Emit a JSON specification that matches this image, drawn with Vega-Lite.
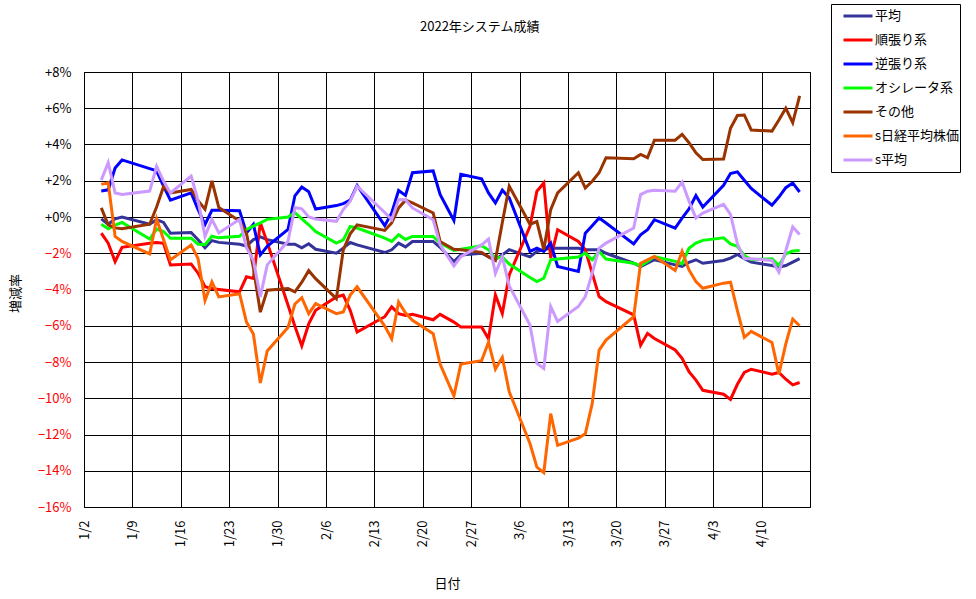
{
  "$schema": "https://vega.github.io/schema/vega-lite/v6.json",
  "width": 726,
  "height": 435,
  "autosize": {"type": "none"},
  "padding": {"left": 84, "top": 72, "right": 166, "bottom": 92},
  "background": "white",
  "title": {"text": "2022年システム成績", "anchor": "start", "frame": "group", "dx": 336, "offset": -36, "baseline": "middle", "fontSize": 13, "fontWeight": "normal", "color": "black"},
  "data": {"values": [
    {"date":"2022-01-04T12:00","series":"平均","value":-0.1},{"date":"2022-01-05T12:00","series":"平均","value":-0.4},{"date":"2022-01-06T12:00","series":"平均","value":-0.1},{"date":"2022-01-07T12:00","series":"平均","value":0.0},{"date":"2022-01-11T12:00","series":"平均","value":-0.4},{"date":"2022-01-12T12:00","series":"平均","value":-0.15},{"date":"2022-01-13T12:00","series":"平均","value":-0.3},{"date":"2022-01-14T12:00","series":"平均","value":-0.9},{"date":"2022-01-17T12:00","series":"平均","value":-0.85},{"date":"2022-01-18T12:00","series":"平均","value":-1.25},{"date":"2022-01-19T12:00","series":"平均","value":-1.7},{"date":"2022-01-20T12:00","series":"平均","value":-1.3},{"date":"2022-01-21T12:00","series":"平均","value":-1.4},{"date":"2022-01-24T12:00","series":"平均","value":-1.5},{"date":"2022-01-25T12:00","series":"平均","value":-1.6},{"date":"2022-01-26T12:00","series":"平均","value":-1.25},{"date":"2022-01-27T12:00","series":"平均","value":-1.1},{"date":"2022-01-28T12:00","series":"平均","value":-1.25},{"date":"2022-01-31T12:00","series":"平均","value":-1.5},
    {"date":"2022-02-01T12:00","series":"平均","value":-1.5},{"date":"2022-02-02T12:00","series":"平均","value":-1.7},{"date":"2022-02-03T12:00","series":"平均","value":-1.48},{"date":"2022-02-04T12:00","series":"平均","value":-1.78},{"date":"2022-02-07T12:00","series":"平均","value":-2.0},{"date":"2022-02-08T12:00","series":"平均","value":-1.72},{"date":"2022-02-09T12:00","series":"平均","value":-1.41},{"date":"2022-02-10T12:00","series":"平均","value":-1.54},{"date":"2022-02-14T12:00","series":"平均","value":-1.96},{"date":"2022-02-15T12:00","series":"平均","value":-1.81},{"date":"2022-02-16T12:00","series":"平均","value":-1.44},{"date":"2022-02-17T12:00","series":"平均","value":-1.65},{"date":"2022-02-18T12:00","series":"平均","value":-1.35},{"date":"2022-02-21T12:00","series":"平均","value":-1.35},{"date":"2022-02-22T12:00","series":"平均","value":-1.67},{"date":"2022-02-24T12:00","series":"平均","value":-2.46},{"date":"2022-02-25T12:00","series":"平均","value":-2.09},{"date":"2022-02-28T12:00","series":"平均","value":-2.0},
    {"date":"2022-03-01T12:00","series":"平均","value":-2.19},{"date":"2022-03-02T12:00","series":"平均","value":-2.33},{"date":"2022-03-03T12:00","series":"平均","value":-2.09},{"date":"2022-03-04T12:00","series":"平均","value":-1.8},{"date":"2022-03-07T12:00","series":"平均","value":-2.2},{"date":"2022-03-08T12:00","series":"平均","value":-1.9},{"date":"2022-03-09T12:00","series":"平均","value":-1.8},{"date":"2022-03-10T12:00","series":"平均","value":-1.72},{"date":"2022-03-11T12:00","series":"平均","value":-1.72},{"date":"2022-03-14T12:00","series":"平均","value":-1.72},{"date":"2022-03-15T12:00","series":"平均","value":-1.8},{"date":"2022-03-16T12:00","series":"平均","value":-1.8},{"date":"2022-03-17T12:00","series":"平均","value":-1.8},{"date":"2022-03-18T12:00","series":"平均","value":-2.0},{"date":"2022-03-22T12:00","series":"平均","value":-2.55},{"date":"2022-03-23T12:00","series":"平均","value":-2.73},{"date":"2022-03-24T12:00","series":"平均","value":-2.55},{"date":"2022-03-25T12:00","series":"平均","value":-2.36},{"date":"2022-03-28T12:00","series":"平均","value":-2.64},{"date":"2022-03-29T12:00","series":"平均","value":-2.73},{"date":"2022-03-30T12:00","series":"平均","value":-2.5},{"date":"2022-03-31T12:00","series":"平均","value":-2.36},
    {"date":"2022-04-01T12:00","series":"平均","value":-2.55},{"date":"2022-04-04T12:00","series":"平均","value":-2.4},{"date":"2022-04-05T12:00","series":"平均","value":-2.27},{"date":"2022-04-06T12:00","series":"平均","value":-2.07},{"date":"2022-04-07T12:00","series":"平均","value":-2.3},{"date":"2022-04-08T12:00","series":"平均","value":-2.49},{"date":"2022-04-11T12:00","series":"平均","value":-2.68},{"date":"2022-04-12T12:00","series":"平均","value":-2.77},{"date":"2022-04-13T12:00","series":"平均","value":-2.68},{"date":"2022-04-14T12:00","series":"平均","value":-2.49},{"date":"2022-04-15T12:00","series":"平均","value":-2.3},

    {"date":"2022-01-04T12:00","series":"順張り系","value":-0.89},{"date":"2022-01-05T12:00","series":"順張り系","value":-1.44},{"date":"2022-01-06T12:00","series":"順張り系","value":-2.46},{"date":"2022-01-07T12:00","series":"順張り系","value":-1.67},{"date":"2022-01-11T12:00","series":"順張り系","value":-1.45},{"date":"2022-01-12T12:00","series":"順張り系","value":-1.41},{"date":"2022-01-13T12:00","series":"順張り系","value":-1.45},{"date":"2022-01-14T12:00","series":"順張り系","value":-2.65},{"date":"2022-01-17T12:00","series":"順張り系","value":-2.6},{"date":"2022-01-18T12:00","series":"順張り系","value":-3.1},{"date":"2022-01-19T12:00","series":"順張り系","value":-3.85},{"date":"2022-01-20T12:00","series":"順張り系","value":-3.95},{"date":"2022-01-21T12:00","series":"順張り系","value":-4.0},{"date":"2022-01-24T12:00","series":"順張り系","value":-4.13},{"date":"2022-01-25T12:00","series":"順張り系","value":-3.3},{"date":"2022-01-26T12:00","series":"順張り系","value":-3.39},{"date":"2022-01-27T12:00","series":"順張り系","value":-0.32},{"date":"2022-01-28T12:00","series":"順張り系","value":-1.4},{"date":"2022-01-31T12:00","series":"順張り系","value":-4.86},
    {"date":"2022-02-01T12:00","series":"順張り系","value":-6.03},{"date":"2022-02-02T12:00","series":"順張り系","value":-7.1},{"date":"2022-02-03T12:00","series":"順張り系","value":-5.9},{"date":"2022-02-04T12:00","series":"順張り系","value":-5.15},{"date":"2022-02-07T12:00","series":"順張り系","value":-4.41},{"date":"2022-02-08T12:00","series":"順張り系","value":-4.31},{"date":"2022-02-09T12:00","series":"順張り系","value":-5.15},{"date":"2022-02-10T12:00","series":"順張り系","value":-6.35},{"date":"2022-02-14T12:00","series":"順張り系","value":-5.5},{"date":"2022-02-15T12:00","series":"順張り系","value":-4.96},{"date":"2022-02-16T12:00","series":"順張り系","value":-5.33},{"date":"2022-02-17T12:00","series":"順張り系","value":-5.43},{"date":"2022-02-18T12:00","series":"順張り系","value":-5.37},{"date":"2022-02-21T12:00","series":"順張り系","value":-5.67},{"date":"2022-02-22T12:00","series":"順張り系","value":-5.37},{"date":"2022-02-24T12:00","series":"順張り系","value":-5.8},{"date":"2022-02-25T12:00","series":"順張り系","value":-6.07},{"date":"2022-02-28T12:00","series":"順張り系","value":-6.07},
    {"date":"2022-03-01T12:00","series":"順張り系","value":-6.72},{"date":"2022-03-02T12:00","series":"順張り系","value":-4.3},{"date":"2022-03-03T12:00","series":"順張り系","value":-5.33},{"date":"2022-03-04T12:00","series":"順張り系","value":-3.2},{"date":"2022-03-07T12:00","series":"順張り系","value":-0.52},{"date":"2022-03-08T12:00","series":"順張り系","value":1.42},{"date":"2022-03-09T12:00","series":"順張り系","value":1.88},{"date":"2022-03-10T12:00","series":"順張り系","value":-2.27},{"date":"2022-03-11T12:00","series":"順張り系","value":-0.7},{"date":"2022-03-14T12:00","series":"順張り系","value":-1.35},{"date":"2022-03-15T12:00","series":"順張り系","value":-1.81},{"date":"2022-03-16T12:00","series":"順張り系","value":-3.1},{"date":"2022-03-17T12:00","series":"順張り系","value":-4.39},{"date":"2022-03-18T12:00","series":"順張り系","value":-4.67},{"date":"2022-03-22T12:00","series":"順張り系","value":-5.4},{"date":"2022-03-23T12:00","series":"順張り系","value":-7.07},{"date":"2022-03-24T12:00","series":"順張り系","value":-6.42},{"date":"2022-03-25T12:00","series":"順張り系","value":-6.7},{"date":"2022-03-28T12:00","series":"順張り系","value":-7.34},{"date":"2022-03-29T12:00","series":"順張り系","value":-7.8},{"date":"2022-03-30T12:00","series":"順張り系","value":-8.54},{"date":"2022-03-31T12:00","series":"順張り系","value":-9.0},
    {"date":"2022-04-01T12:00","series":"順張り系","value":-9.56},{"date":"2022-04-04T12:00","series":"順張り系","value":-9.78},{"date":"2022-04-05T12:00","series":"順張り系","value":-10.06},{"date":"2022-04-06T12:00","series":"順張り系","value":-9.23},{"date":"2022-04-07T12:00","series":"順張り系","value":-8.58},{"date":"2022-04-08T12:00","series":"順張り系","value":-8.4},{"date":"2022-04-11T12:00","series":"順張り系","value":-8.67},{"date":"2022-04-12T12:00","series":"順張り系","value":-8.58},{"date":"2022-04-13T12:00","series":"順張り系","value":-8.95},{"date":"2022-04-14T12:00","series":"順張り系","value":-9.26},{"date":"2022-04-15T12:00","series":"順張り系","value":-9.13},

    {"date":"2022-01-04T12:00","series":"逆張り系","value":1.44},{"date":"2022-01-05T12:00","series":"逆張り系","value":1.5},{"date":"2022-01-06T12:00","series":"逆張り系","value":2.7},{"date":"2022-01-07T12:00","series":"逆張り系","value":3.15},{"date":"2022-01-11T12:00","series":"逆張り系","value":2.67},{"date":"2022-01-12T12:00","series":"逆張り系","value":2.55},{"date":"2022-01-13T12:00","series":"逆張り系","value":1.7},{"date":"2022-01-14T12:00","series":"逆張り系","value":0.93},{"date":"2022-01-17T12:00","series":"逆張り系","value":1.33},{"date":"2022-01-18T12:00","series":"逆張り系","value":0.4},{"date":"2022-01-19T12:00","series":"逆張り系","value":-0.41},{"date":"2022-01-20T12:00","series":"逆張り系","value":0.37},{"date":"2022-01-21T12:00","series":"逆張り系","value":0.37},{"date":"2022-01-24T12:00","series":"逆張り系","value":0.34},{"date":"2022-01-25T12:00","series":"逆張り系","value":-0.88},{"date":"2022-01-26T12:00","series":"逆張り系","value":-0.41},{"date":"2022-01-27T12:00","series":"逆張り系","value":-2.09},{"date":"2022-01-28T12:00","series":"逆張り系","value":-1.62},{"date":"2022-01-31T12:00","series":"逆張り系","value":-0.69},
    {"date":"2022-02-01T12:00","series":"逆張り系","value":1.17},{"date":"2022-02-02T12:00","series":"逆張り系","value":1.65},{"date":"2022-02-03T12:00","series":"逆張り系","value":1.39},{"date":"2022-02-04T12:00","series":"逆張り系","value":0.44},{"date":"2022-02-07T12:00","series":"逆張り系","value":0.63},{"date":"2022-02-08T12:00","series":"逆張り系","value":0.74},{"date":"2022-02-09T12:00","series":"逆張り系","value":0.93},{"date":"2022-02-10T12:00","series":"逆張り系","value":1.74},{"date":"2022-02-14T12:00","series":"逆張り系","value":-0.48},{"date":"2022-02-15T12:00","series":"逆張り系","value":0.22},{"date":"2022-02-16T12:00","series":"逆張り系","value":1.46},{"date":"2022-02-17T12:00","series":"逆張り系","value":1.19},{"date":"2022-02-18T12:00","series":"逆張り系","value":2.44},{"date":"2022-02-21T12:00","series":"逆張り系","value":2.54},{"date":"2022-02-22T12:00","series":"逆張り系","value":1.24},{"date":"2022-02-24T12:00","series":"逆張り系","value":-0.19},{"date":"2022-02-25T12:00","series":"逆張り系","value":2.35},{"date":"2022-02-28T12:00","series":"逆張り系","value":2.11},
    {"date":"2022-03-01T12:00","series":"逆張り系","value":1.33},{"date":"2022-03-02T12:00","series":"逆張り系","value":0.78},{"date":"2022-03-03T12:00","series":"逆張り系","value":1.48},{"date":"2022-03-04T12:00","series":"逆張り系","value":1.06},{"date":"2022-03-07T12:00","series":"逆張り系","value":-1.9},{"date":"2022-03-08T12:00","series":"逆張り系","value":-1.72},{"date":"2022-03-09T12:00","series":"逆張り系","value":-1.9},{"date":"2022-03-10T12:00","series":"逆張り系","value":-1.44},{"date":"2022-03-11T12:00","series":"逆張り系","value":-2.73},{"date":"2022-03-14T12:00","series":"逆張り系","value":-3.0},{"date":"2022-03-15T12:00","series":"逆張り系","value":-0.89},{"date":"2022-03-16T12:00","series":"逆張り系","value":-0.48},{"date":"2022-03-17T12:00","series":"逆張り系","value":-0.06},{"date":"2022-03-18T12:00","series":"逆張り系","value":-0.33},{"date":"2022-03-22T12:00","series":"逆張り系","value":-1.48},{"date":"2022-03-23T12:00","series":"逆張り系","value":-0.98},{"date":"2022-03-24T12:00","series":"逆張り系","value":-0.7},{"date":"2022-03-25T12:00","series":"逆張り系","value":-0.15},{"date":"2022-03-28T12:00","series":"逆張り系","value":-0.61},{"date":"2022-03-29T12:00","series":"逆張り系","value":-0.06},{"date":"2022-03-30T12:00","series":"逆張り系","value":0.44},{"date":"2022-03-31T12:00","series":"逆張り系","value":1.18},
    {"date":"2022-04-01T12:00","series":"逆張り系","value":0.55},{"date":"2022-04-04T12:00","series":"逆張り系","value":1.75},{"date":"2022-04-05T12:00","series":"逆張り系","value":2.4},{"date":"2022-04-06T12:00","series":"逆張り系","value":2.49},{"date":"2022-04-07T12:00","series":"逆張り系","value":2.03},{"date":"2022-04-08T12:00","series":"逆張り系","value":1.57},{"date":"2022-04-11T12:00","series":"逆張り系","value":0.65},{"date":"2022-04-12T12:00","series":"逆張り系","value":1.1},{"date":"2022-04-13T12:00","series":"逆張り系","value":1.62},{"date":"2022-04-14T12:00","series":"逆張り系","value":1.88},{"date":"2022-04-15T12:00","series":"逆張り系","value":1.38},

    {"date":"2022-01-04T12:00","series":"オシレータ系","value":-0.4},{"date":"2022-01-05T12:00","series":"オシレータ系","value":-0.65},{"date":"2022-01-06T12:00","series":"オシレータ系","value":-0.45},{"date":"2022-01-07T12:00","series":"オシレータ系","value":-0.3},{"date":"2022-01-11T12:00","series":"オシレータ系","value":-1.22},{"date":"2022-01-12T12:00","series":"オシレータ系","value":-0.67},{"date":"2022-01-13T12:00","series":"オシレータ系","value":-0.8},{"date":"2022-01-14T12:00","series":"オシレータ系","value":-1.17},{"date":"2022-01-17T12:00","series":"オシレータ系","value":-1.17},{"date":"2022-01-18T12:00","series":"オシレータ系","value":-1.5},{"date":"2022-01-19T12:00","series":"オシレータ系","value":-1.53},{"date":"2022-01-20T12:00","series":"オシレータ系","value":-1.06},{"date":"2022-01-21T12:00","series":"オシレータ系","value":-1.15},{"date":"2022-01-24T12:00","series":"オシレータ系","value":-1.06},{"date":"2022-01-25T12:00","series":"オシレータ系","value":-0.69},{"date":"2022-01-26T12:00","series":"オシレータ系","value":-0.5},{"date":"2022-01-27T12:00","series":"オシレータ系","value":-0.32},{"date":"2022-01-28T12:00","series":"オシレータ系","value":-0.13},{"date":"2022-01-31T12:00","series":"オシレータ系","value":0.0},
    {"date":"2022-02-01T12:00","series":"オシレータ系","value":0.24},{"date":"2022-02-02T12:00","series":"オシレータ系","value":-0.1},{"date":"2022-02-03T12:00","series":"オシレータ系","value":-0.43},{"date":"2022-02-04T12:00","series":"オシレータ系","value":-0.8},{"date":"2022-02-07T12:00","series":"オシレータ系","value":-1.44},{"date":"2022-02-08T12:00","series":"オシレータ系","value":-1.26},{"date":"2022-02-09T12:00","series":"オシレータ系","value":-0.52},{"date":"2022-02-10T12:00","series":"オシレータ系","value":-0.61},{"date":"2022-02-14T12:00","series":"オシレータ系","value":-1.17},{"date":"2022-02-15T12:00","series":"オシレータ系","value":-1.35},{"date":"2022-02-16T12:00","series":"オシレータ系","value":-0.98},{"date":"2022-02-17T12:00","series":"オシレータ系","value":-1.24},{"date":"2022-02-18T12:00","series":"オシレータ系","value":-1.07},{"date":"2022-02-21T12:00","series":"オシレータ系","value":-1.07},{"date":"2022-02-22T12:00","series":"オシレータ系","value":-1.44},{"date":"2022-02-24T12:00","series":"オシレータ系","value":-1.85},{"date":"2022-02-25T12:00","series":"オシレータ系","value":-1.78},{"date":"2022-02-28T12:00","series":"オシレータ系","value":-1.59},
    {"date":"2022-03-01T12:00","series":"オシレータ系","value":-1.81},{"date":"2022-03-02T12:00","series":"オシレータ系","value":-2.28},{"date":"2022-03-03T12:00","series":"オシレータ系","value":-2.2},{"date":"2022-03-04T12:00","series":"オシレータ系","value":-2.6},{"date":"2022-03-07T12:00","series":"オシレータ系","value":-3.34},{"date":"2022-03-08T12:00","series":"オシレータ系","value":-3.56},{"date":"2022-03-09T12:00","series":"オシレータ系","value":-3.38},{"date":"2022-03-10T12:00","series":"オシレータ系","value":-2.36},{"date":"2022-03-11T12:00","series":"オシレータ系","value":-2.32},{"date":"2022-03-14T12:00","series":"オシレータ系","value":-2.21},{"date":"2022-03-15T12:00","series":"オシレータ系","value":-1.99},{"date":"2022-03-16T12:00","series":"オシレータ系","value":-2.36},{"date":"2022-03-17T12:00","series":"オシレータ系","value":-1.9},{"date":"2022-03-18T12:00","series":"オシレータ系","value":-2.32},{"date":"2022-03-22T12:00","series":"オシレータ系","value":-2.55},{"date":"2022-03-23T12:00","series":"オシレータ系","value":-2.69},{"date":"2022-03-24T12:00","series":"オシレータ系","value":-2.45},{"date":"2022-03-25T12:00","series":"オシレータ系","value":-2.18},{"date":"2022-03-28T12:00","series":"オシレータ系","value":-2.45},{"date":"2022-03-29T12:00","series":"オシレータ系","value":-2.58},{"date":"2022-03-30T12:00","series":"オシレータ系","value":-1.72},{"date":"2022-03-31T12:00","series":"オシレータ系","value":-1.44},
    {"date":"2022-04-01T12:00","series":"オシレータ系","value":-1.29},{"date":"2022-04-04T12:00","series":"オシレータ系","value":-1.15},{"date":"2022-04-05T12:00","series":"オシレータ系","value":-1.48},{"date":"2022-04-06T12:00","series":"オシレータ系","value":-1.62},{"date":"2022-04-07T12:00","series":"オシレータ系","value":-2.12},{"date":"2022-04-08T12:00","series":"オシレータ系","value":-2.36},{"date":"2022-04-11T12:00","series":"オシレータ系","value":-2.3},{"date":"2022-04-12T12:00","series":"オシレータ系","value":-2.68},{"date":"2022-04-13T12:00","series":"オシレータ系","value":-2.03},{"date":"2022-04-14T12:00","series":"オシレータ系","value":-1.88},{"date":"2022-04-15T12:00","series":"オシレータ系","value":-1.85},

    {"date":"2022-01-04T12:00","series":"その他","value":0.5},{"date":"2022-01-05T12:00","series":"その他","value":-0.43},{"date":"2022-01-06T12:00","series":"その他","value":-0.6},{"date":"2022-01-07T12:00","series":"その他","value":-0.65},{"date":"2022-01-11T12:00","series":"その他","value":-0.4},{"date":"2022-01-12T12:00","series":"その他","value":0.55},{"date":"2022-01-13T12:00","series":"その他","value":1.67},{"date":"2022-01-14T12:00","series":"その他","value":1.33},{"date":"2022-01-17T12:00","series":"その他","value":1.52},{"date":"2022-01-18T12:00","series":"その他","value":0.9},{"date":"2022-01-19T12:00","series":"その他","value":0.43},{"date":"2022-01-20T12:00","series":"その他","value":2.0},{"date":"2022-01-21T12:00","series":"その他","value":0.52},{"date":"2022-01-24T12:00","series":"その他","value":-0.22},{"date":"2022-01-25T12:00","series":"その他","value":-0.9},{"date":"2022-01-26T12:00","series":"その他","value":-2.8},{"date":"2022-01-27T12:00","series":"その他","value":-5.25},{"date":"2022-01-28T12:00","series":"その他","value":-4.04},{"date":"2022-01-31T12:00","series":"その他","value":-3.95},
    {"date":"2022-02-01T12:00","series":"その他","value":-4.13},{"date":"2022-02-02T12:00","series":"その他","value":-3.6},{"date":"2022-02-03T12:00","series":"その他","value":-2.96},{"date":"2022-02-04T12:00","series":"その他","value":-3.4},{"date":"2022-02-07T12:00","series":"その他","value":-4.5},{"date":"2022-02-08T12:00","series":"その他","value":-1.81},{"date":"2022-02-09T12:00","series":"その他","value":-0.93},{"date":"2022-02-10T12:00","series":"その他","value":-0.43},{"date":"2022-02-14T12:00","series":"その他","value":-0.74},{"date":"2022-02-15T12:00","series":"その他","value":-0.33},{"date":"2022-02-16T12:00","series":"その他","value":0.5},{"date":"2022-02-17T12:00","series":"その他","value":0.93},{"date":"2022-02-18T12:00","series":"その他","value":0.78},{"date":"2022-02-21T12:00","series":"その他","value":0.22},{"date":"2022-02-22T12:00","series":"その他","value":-1.35},{"date":"2022-02-24T12:00","series":"その他","value":-1.78},{"date":"2022-02-25T12:00","series":"その他","value":-1.81},{"date":"2022-02-28T12:00","series":"その他","value":-1.95},
    {"date":"2022-03-01T12:00","series":"その他","value":-2.2},{"date":"2022-03-02T12:00","series":"その他","value":-2.4},{"date":"2022-03-03T12:00","series":"その他","value":-0.3},{"date":"2022-03-04T12:00","series":"その他","value":1.7},{"date":"2022-03-07T12:00","series":"その他","value":-0.4},{"date":"2022-03-08T12:00","series":"その他","value":-0.25},{"date":"2022-03-09T12:00","series":"その他","value":-1.8},{"date":"2022-03-10T12:00","series":"その他","value":0.41},{"date":"2022-03-11T12:00","series":"その他","value":1.33},{"date":"2022-03-14T12:00","series":"その他","value":2.44},{"date":"2022-03-15T12:00","series":"その他","value":1.6},{"date":"2022-03-16T12:00","series":"その他","value":1.97},{"date":"2022-03-17T12:00","series":"その他","value":2.44},{"date":"2022-03-18T12:00","series":"その他","value":3.27},{"date":"2022-03-22T12:00","series":"その他","value":3.21},{"date":"2022-03-23T12:00","series":"その他","value":3.45},{"date":"2022-03-24T12:00","series":"その他","value":3.27},{"date":"2022-03-25T12:00","series":"その他","value":4.24},{"date":"2022-03-28T12:00","series":"その他","value":4.24},{"date":"2022-03-29T12:00","series":"その他","value":4.56},{"date":"2022-03-30T12:00","series":"その他","value":4.1},{"date":"2022-03-31T12:00","series":"その他","value":3.54},
    {"date":"2022-04-01T12:00","series":"その他","value":3.17},{"date":"2022-04-04T12:00","series":"その他","value":3.2},{"date":"2022-04-05T12:00","series":"その他","value":4.9},{"date":"2022-04-06T12:00","series":"その他","value":5.6},{"date":"2022-04-07T12:00","series":"その他","value":5.63},{"date":"2022-04-08T12:00","series":"その他","value":4.8},{"date":"2022-04-11T12:00","series":"その他","value":4.74},{"date":"2022-04-12T12:00","series":"その他","value":5.35},{"date":"2022-04-13T12:00","series":"その他","value":6.0},{"date":"2022-04-14T12:00","series":"その他","value":5.2},{"date":"2022-04-15T12:00","series":"その他","value":6.68},

    {"date":"2022-01-04T12:00","series":"s日経平均株価","value":1.8},{"date":"2022-01-05T12:00","series":"s日経平均株価","value":1.89},{"date":"2022-01-06T12:00","series":"s日経平均株価","value":-1.07},{"date":"2022-01-07T12:00","series":"s日経平均株価","value":-1.35},{"date":"2022-01-11T12:00","series":"s日経平均株価","value":-2.04},{"date":"2022-01-12T12:00","series":"s日経平均株価","value":-0.11},{"date":"2022-01-13T12:00","series":"s日経平均株価","value":-1.24},{"date":"2022-01-14T12:00","series":"s日経平均株価","value":-2.37},{"date":"2022-01-17T12:00","series":"s日経平均株価","value":-1.54},{"date":"2022-01-18T12:00","series":"s日経平均株価","value":-2.3},{"date":"2022-01-19T12:00","series":"s日経平均株価","value":-4.6},{"date":"2022-01-20T12:00","series":"s日経平均株価","value":-3.58},{"date":"2022-01-21T12:00","series":"s日経平均株価","value":-4.41},{"date":"2022-01-24T12:00","series":"s日経平均株価","value":-4.23},{"date":"2022-01-25T12:00","series":"s日経平均株価","value":-5.8},{"date":"2022-01-26T12:00","series":"s日経平均株価","value":-6.46},{"date":"2022-01-27T12:00","series":"s日経平均株価","value":-9.16},{"date":"2022-01-28T12:00","series":"s日経平均株価","value":-7.39},{"date":"2022-01-31T12:00","series":"s日経平均株価","value":-6.1},
    {"date":"2022-02-01T12:00","series":"s日経平均株価","value":-4.8},{"date":"2022-02-02T12:00","series":"s日経平均株価","value":-4.45},{"date":"2022-02-03T12:00","series":"s日経平均株価","value":-5.33},{"date":"2022-02-04T12:00","series":"s日経平均株価","value":-4.78},{"date":"2022-02-07T12:00","series":"s日経平均株価","value":-5.33},{"date":"2022-02-08T12:00","series":"s日経平均株価","value":-5.24},{"date":"2022-02-09T12:00","series":"s日経平均株価","value":-4.31},{"date":"2022-02-10T12:00","series":"s日経平均株価","value":-3.85},{"date":"2022-02-14T12:00","series":"s日経平均株価","value":-6.02},{"date":"2022-02-15T12:00","series":"s日経平均株価","value":-6.72},{"date":"2022-02-16T12:00","series":"s日経平均株価","value":-4.69},{"date":"2022-02-17T12:00","series":"s日経平均株価","value":-5.3},{"date":"2022-02-18T12:00","series":"s日経平均株価","value":-5.7},{"date":"2022-02-21T12:00","series":"s日経平均株価","value":-6.44},{"date":"2022-02-22T12:00","series":"s日経平均株価","value":-8.11},{"date":"2022-02-24T12:00","series":"s日経平均株価","value":-9.87},{"date":"2022-02-25T12:00","series":"s日経平均株価","value":-8.11},{"date":"2022-02-28T12:00","series":"s日経平均株価","value":-7.93},
    {"date":"2022-03-01T12:00","series":"s日経平均株価","value":-6.91},{"date":"2022-03-02T12:00","series":"s日経平均株価","value":-8.39},{"date":"2022-03-03T12:00","series":"s日経平均株価","value":-7.74},{"date":"2022-03-04T12:00","series":"s日経平均株価","value":-9.65},{"date":"2022-03-07T12:00","series":"s日経平均株価","value":-12.5},{"date":"2022-03-08T12:00","series":"s日経平均株価","value":-13.8},{"date":"2022-03-09T12:00","series":"s日経平均株価","value":-14.1},{"date":"2022-03-10T12:00","series":"s日経平均株価","value":-10.85},{"date":"2022-03-11T12:00","series":"s日経平均株価","value":-12.6},{"date":"2022-03-14T12:00","series":"s日経平均株価","value":-12.2},{"date":"2022-03-15T12:00","series":"s日経平均株価","value":-11.96},{"date":"2022-03-16T12:00","series":"s日経平均株価","value":-10.3},{"date":"2022-03-17T12:00","series":"s日経平均株価","value":-7.34},{"date":"2022-03-18T12:00","series":"s日経平均株価","value":-6.79},{"date":"2022-03-22T12:00","series":"s日経平均株価","value":-5.5},{"date":"2022-03-23T12:00","series":"s日経平均株価","value":-2.55},{"date":"2022-03-24T12:00","series":"s日経平均株価","value":-2.36},{"date":"2022-03-25T12:00","series":"s日経平均株価","value":-2.18},{"date":"2022-03-28T12:00","series":"s日経平均株価","value":-2.95},{"date":"2022-03-29T12:00","series":"s日経平均株価","value":-1.9},{"date":"2022-03-30T12:00","series":"s日経平均株価","value":-2.92},{"date":"2022-03-31T12:00","series":"s日経平均株価","value":-3.56},
    {"date":"2022-04-01T12:00","series":"s日経平均株価","value":-3.93},{"date":"2022-04-04T12:00","series":"s日経平均株価","value":-3.65},{"date":"2022-04-05T12:00","series":"s日経平均株価","value":-3.6},{"date":"2022-04-06T12:00","series":"s日経平均株価","value":-5.17},{"date":"2022-04-07T12:00","series":"s日経平均株価","value":-6.64},{"date":"2022-04-08T12:00","series":"s日経平均株価","value":-6.31},{"date":"2022-04-11T12:00","series":"s日経平均株価","value":-6.92},{"date":"2022-04-12T12:00","series":"s日経平均株価","value":-8.67},{"date":"2022-04-13T12:00","series":"s日経平均株価","value":-7.0},{"date":"2022-04-14T12:00","series":"s日経平均株価","value":-5.63},{"date":"2022-04-15T12:00","series":"s日経平均株価","value":-6.0},

    {"date":"2022-01-04T12:00","series":"s平均","value":2.04},{"date":"2022-01-05T12:00","series":"s平均","value":3.0},{"date":"2022-01-06T12:00","series":"s平均","value":1.33},{"date":"2022-01-07T12:00","series":"s平均","value":1.24},{"date":"2022-01-11T12:00","series":"s平均","value":1.43},{"date":"2022-01-12T12:00","series":"s平均","value":2.8},{"date":"2022-01-13T12:00","series":"s平均","value":1.98},{"date":"2022-01-14T12:00","series":"s平均","value":1.33},{"date":"2022-01-17T12:00","series":"s平均","value":2.26},{"date":"2022-01-18T12:00","series":"s平均","value":0.9},{"date":"2022-01-19T12:00","series":"s平均","value":-1.06},{"date":"2022-01-20T12:00","series":"s平均","value":-0.13},{"date":"2022-01-21T12:00","series":"s平均","value":-0.88},{"date":"2022-01-24T12:00","series":"s平均","value":-0.13},{"date":"2022-01-25T12:00","series":"s平均","value":-1.7},{"date":"2022-01-26T12:00","series":"s平均","value":-2.4},{"date":"2022-01-27T12:00","series":"s平均","value":-4.41},{"date":"2022-01-28T12:00","series":"s平均","value":-2.64},{"date":"2022-01-31T12:00","series":"s平均","value":-1.34},
    {"date":"2022-02-01T12:00","series":"s平均","value":0.52},{"date":"2022-02-02T12:00","series":"s平均","value":0.45},{"date":"2022-02-03T12:00","series":"s平均","value":0.0},{"date":"2022-02-04T12:00","series":"s平均","value":-0.11},{"date":"2022-02-07T12:00","series":"s平均","value":-0.24},{"date":"2022-02-08T12:00","series":"s平均","value":0.41},{"date":"2022-02-09T12:00","series":"s平均","value":0.87},{"date":"2022-02-10T12:00","series":"s平均","value":1.7},{"date":"2022-02-14T12:00","series":"s平均","value":0.25},{"date":"2022-02-15T12:00","series":"s平均","value":-0.15},{"date":"2022-02-16T12:00","series":"s平均","value":0.96},{"date":"2022-02-17T12:00","series":"s平均","value":0.95},{"date":"2022-02-18T12:00","series":"s平均","value":0.5},{"date":"2022-02-21T12:00","series":"s平均","value":-0.15},{"date":"2022-02-22T12:00","series":"s平均","value":-1.54},{"date":"2022-02-24T12:00","series":"s平均","value":-2.7},{"date":"2022-02-25T12:00","series":"s平均","value":-2.19},{"date":"2022-02-28T12:00","series":"s平均","value":-1.54},
    {"date":"2022-03-01T12:00","series":"s平均","value":-1.22},{"date":"2022-03-02T12:00","series":"s平均","value":-3.11},{"date":"2022-03-03T12:00","series":"s平均","value":-2.19},{"date":"2022-03-04T12:00","series":"s平均","value":-3.8},{"date":"2022-03-07T12:00","series":"s平均","value":-5.96},{"date":"2022-03-08T12:00","series":"s平均","value":-8.08},{"date":"2022-03-09T12:00","series":"s平均","value":-8.36},{"date":"2022-03-10T12:00","series":"s平均","value":-4.94},{"date":"2022-03-11T12:00","series":"s平均","value":-5.77},{"date":"2022-03-14T12:00","series":"s平均","value":-4.94},{"date":"2022-03-15T12:00","series":"s平均","value":-4.39},{"date":"2022-03-16T12:00","series":"s平均","value":-3.1},{"date":"2022-03-17T12:00","series":"s平均","value":-1.72},{"date":"2022-03-18T12:00","series":"s平均","value":-1.44},{"date":"2022-03-22T12:00","series":"s平均","value":-0.61},{"date":"2022-03-23T12:00","series":"s平均","value":1.24},{"date":"2022-03-24T12:00","series":"s平均","value":1.42},{"date":"2022-03-25T12:00","series":"s平均","value":1.48},{"date":"2022-03-28T12:00","series":"s平均","value":1.42},{"date":"2022-03-29T12:00","series":"s平均","value":1.92},{"date":"2022-03-30T12:00","series":"s平均","value":0.87},{"date":"2022-03-31T12:00","series":"s平均","value":-0.06},
    {"date":"2022-04-01T12:00","series":"s平均","value":0.22},{"date":"2022-04-04T12:00","series":"s平均","value":0.7},{"date":"2022-04-05T12:00","series":"s平均","value":0.15},{"date":"2022-04-06T12:00","series":"s平均","value":-1.48},{"date":"2022-04-07T12:00","series":"s平均","value":-2.3},{"date":"2022-04-08T12:00","series":"s平均","value":-2.3},{"date":"2022-04-11T12:00","series":"s平均","value":-2.4},{"date":"2022-04-12T12:00","series":"s平均","value":-3.04},{"date":"2022-04-13T12:00","series":"s平均","value":-1.85},{"date":"2022-04-14T12:00","series":"s平均","value":-0.55},{"date":"2022-04-15T12:00","series":"s平均","value":-0.96}
  ]},
  "mark": {"type": "line", "strokeWidth": 3, "clip": true},
  "encoding": {
    "x": {
      "field": "date",
      "type": "temporal",
      "scale": {"domain": [{"year": 2022, "month": 1, "date": 2}, {"year": 2022, "month": 4, "date": 17}]},
      "axis": {
        "values": [
          {"year": 2022, "month": 1, "date": 2}, {"year": 2022, "month": 1, "date": 9}, {"year": 2022, "month": 1, "date": 16},
          {"year": 2022, "month": 1, "date": 23}, {"year": 2022, "month": 1, "date": 30}, {"year": 2022, "month": 2, "date": 6},
          {"year": 2022, "month": 2, "date": 13}, {"year": 2022, "month": 2, "date": 20}, {"year": 2022, "month": 2, "date": 27},
          {"year": 2022, "month": 3, "date": 6}, {"year": 2022, "month": 3, "date": 13}, {"year": 2022, "month": 3, "date": 20},
          {"year": 2022, "month": 3, "date": 27}, {"year": 2022, "month": 4, "date": 3}, {"year": 2022, "month": 4, "date": 10}
        ],
        "format": "%-m/%-d",
        "labelAngle": 270,
        "labelAlign": "right",
        "labelBaseline": "middle",
        "labelPadding": 13,
        "title": "日付",
        "titleX": 363,
        "titleY": 76,
        "titleAlign": "center",
        "titleBaseline": "middle"
      }
    },
    "y": {
      "field": "value",
      "type": "quantitative",
      "scale": {"domain": [-16, 8], "nice": false, "zero": false},
      "axis": {
        "values": [-16, -14, -12, -10, -8, -6, -4, -2, 0, 2, 4, 6, 8],
        "labelExpr": "datum.value >= 0 ? '+' + datum.value + '%' : '−' + (-datum.value) + '%'",
        "labelColor": {"condition": {"test": "datum.value < 0", "value": "#FF0000"}, "value": "black"},
        "labelPadding": 13,
        "title": "増減率",
        "titleAngle": 270,
        "titleX": -69,
        "titleY": 221,
        "titleAlign": "center",
        "titleBaseline": "middle"
      }
    },
    "color": {
      "field": "series",
      "type": "nominal",
      "scale": {
        "domain": ["平均", "順張り系", "逆張り系", "オシレータ系", "その他", "s日経平均株価", "s平均"],
        "range": ["#333399", "#FF0000", "#0000FF", "#00FF00", "#993300", "#FF6600", "#CC99FF"]
      },
      "legend": {
        "orient": "none",
        "legendX": 747,
        "legendY": -68,
        "title": null,
        "direction": "vertical",
        "symbolType": "stroke",
        "symbolStrokeWidth": 3,
        "symbolSize": 841,
        "symbolOffset": 11,
        "clipHeight": 24,
        "labelOffset": 1,
        "labelFontSize": 13,
        "labelColor": "black",
        "labelLimit": 0,
        "rowPadding": 0,
        "padding": 0,
        "strokeColor": "black",
        "fillColor": "white"
      }
    }
  },
  "config": {
    "font": "Noto Sans CJK JP",
    "view": {"stroke": "black", "strokeWidth": 1},
    "axis": {
      "domain": false,
      "ticks": false,
      "tickSize": 0,
      "grid": true,
      "gridColor": "black",
      "gridOpacity": 1,
      "gridWidth": 1,
      "labelFontSize": 13,
      "labelColor": "black",
      "labelOverlap": false,
      "labelFlush": false,
      "titleFontSize": 13,
      "titleFontWeight": "normal",
      "titleColor": "black"
    }
  }
}
